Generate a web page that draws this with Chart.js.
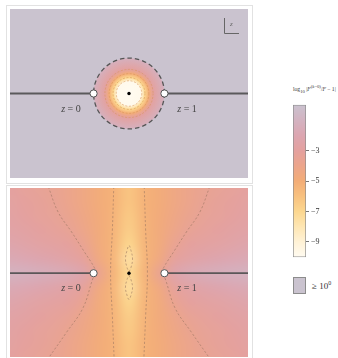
<!DOCTYPE html>
<html>
<head>
<meta charset="utf-8">
<script src="https://cdn.jsdelivr.net/npm/chart.js@4.4.1/dist/chart.umd.min.js"></script>
<style>
  html, body { margin: 0; padding: 0; background: #fff; }
  body { width: 338px; height: 358px; position: relative; overflow: hidden; font-family: 'Liberation Serif', serif; }
  canvas, .frame, .txt, .swatch { position: absolute; }
  .frame { border: 1px solid #e2e2e2; box-sizing: border-box; }
  .txt { white-space: nowrap; color: #333; }
</style>
</head>
<body>
<div class="frame" style="left:6px;top:5px;width:247px;height:179px"></div>
<div class="frame" style="left:6px;top:185px;width:247px;height:180px"></div>
<canvas id="top" width="238" height="169" style="left:10px;top:9px"></canvas>
<canvas id="bottom" width="238" height="169" style="left:10px;top:188px"></canvas>
<canvas id="bar" width="45" height="166" style="left:293px;top:98px"></canvas>
<div class="txt" style="left:293px;top:84px;font-size:5.6px">log<sub>10</sub> |<i>F</i><sup>(<i>k</i>=0)</sup>/<i>F</i> − 1|</div>
<div class="swatch" style="left:293px;top:277px;width:13px;height:17px;background:#cac3cf;border:1px solid #8c8c8c;box-sizing:border-box"></div>
<div class="txt" style="left:312px;top:280px;font-size:9px">≥ 10<sup style="font-size:6px">0</sup></div>
<script>
// plane window (Re, Im)
const reRange = [-1.18, 2.18];
const imRangeTop = [-1.19, 1.19];
const imRangeBottom = [-1.18, 1.2];

// special points on the real axis
const cutLeft = [{x: -1.18, y: 0}, {x: 0, y: 0}];
const cutRight = [{x: 1, y: 0}, {x: 2.18, y: 0}];
const endPoints = [{x: 0, y: 0}, {x: 1, y: 0}];
const centrePoint = [{x: 0.5, y: 0}];

// top panel: radial profile around z = 1/2 (radius -> log10 error)
const topRadii = [0, 0.17, 0.18, 0.225, 0.28, 0.34, 0.5];
const topLevels = [-10, -9.8, -9, -7, -5, -3, -1.2];
const topContourLevels = [-3, -5, -7, -9];
const unitCircleRadius = 0.5;

// bottom panel: sampled log10 error
const gridRe = [-1.18, -0.97, -0.76, -0.55, -0.34, -0.13, 0.08, 0.29, 0.5, 0.71, 0.92, 1.13, 1.34, 1.55, 1.76, 1.97, 2.18];
const gridIm = [1.2, 1.0, 0.8, 0.6, 0.4, 0.2, 0, -0.2, -0.4, -0.6, -0.8, -1.0, -1.2];
const gridLevels = [
  [-3.0, -3.2, -3.4, -3.65, -4.0, -4.4, -4.85, -5.3, -6.2, -5.3, -4.85, -4.4, -4.0, -3.65, -3.4, -3.2, -3.0],
  [-2.9, -3.1, -3.3, -3.55, -3.95, -4.4, -4.85, -5.3, -6.2, -5.3, -4.85, -4.4, -3.95, -3.55, -3.3, -3.1, -2.9],
  [-2.8, -3.0, -3.2, -3.4, -3.8, -4.3, -4.8, -5.35, -6.4, -5.35, -4.8, -4.3, -3.8, -3.4, -3.2, -3.0, -2.8],
  [-2.6, -2.8, -3.0, -3.2, -3.5, -4.1, -4.75, -5.4, -6.6, -5.4, -4.75, -4.1, -3.5, -3.2, -3.0, -2.8, -2.6],
  [-2.3, -2.5, -2.7, -2.9, -3.1, -3.7, -4.7, -5.45, -7.0, -5.45, -4.7, -3.7, -3.1, -2.9, -2.7, -2.5, -2.3],
  [-1.8, -1.95, -2.15, -2.4, -2.7, -3.2, -4.5, -5.5, -7.6, -5.5, -4.5, -3.2, -2.7, -2.4, -2.15, -1.95, -1.8],
  [-1.1, -1.2, -1.35, -1.55, -1.8, -2.4, -3.8, -5.4, -7.1, -5.4, -3.8, -2.4, -1.8, -1.55, -1.35, -1.2, -1.1],
  [-1.8, -1.95, -2.15, -2.4, -2.7, -3.2, -4.5, -5.5, -7.5, -5.5, -4.5, -3.2, -2.7, -2.4, -2.15, -1.95, -1.8],
  [-2.3, -2.5, -2.7, -2.9, -3.1, -3.7, -4.7, -5.45, -7.0, -5.45, -4.7, -3.7, -3.1, -2.9, -2.7, -2.5, -2.3],
  [-2.6, -2.8, -3.0, -3.2, -3.5, -4.1, -4.75, -5.4, -6.6, -5.4, -4.75, -4.1, -3.5, -3.2, -3.0, -2.8, -2.6],
  [-2.8, -3.0, -3.2, -3.4, -3.8, -4.3, -4.8, -5.35, -6.4, -5.35, -4.8, -4.3, -3.8, -3.4, -3.2, -3.0, -2.8],
  [-2.9, -3.1, -3.3, -3.55, -3.95, -4.4, -4.85, -5.3, -6.2, -5.3, -4.85, -4.4, -3.95, -3.55, -3.3, -3.1, -2.9],
  [-3.0, -3.2, -3.4, -3.65, -4.0, -4.4, -4.85, -5.3, -6.2, -5.3, -4.85, -4.4, -4.0, -3.65, -3.4, -3.2, -3.0]
];

// bottom panel contour lines
const contourOuterLeft = [{x: -0.64, y: 1.22}, {x: -0.5, y: 0.86}, {x: -0.31, y: 0.58}, {x: -0.13, y: 0.3}, {x: 0.01, y: 0.08}, {x: 0.03, y: 0}, {x: -0.01, y: -0.075}, {x: -0.15, y: -0.49}, {x: -0.38, y: -0.83}, {x: -0.64, y: -1.2}];
const contourOuterRight = [{x: 1.64, y: 1.22}, {x: 1.5, y: 0.86}, {x: 1.31, y: 0.58}, {x: 1.13, y: 0.3}, {x: 0.99, y: 0.08}, {x: 0.97, y: 0}, {x: 1.01, y: -0.075}, {x: 1.15, y: -0.49}, {x: 1.38, y: -0.83}, {x: 1.64, y: -1.2}];
const contourBandLeft = [{x: 0.285, y: 1.22}, {x: 0.265, y: 0.6}, {x: 0.24, y: 0}, {x: 0.265, y: -0.6}, {x: 0.29, y: -1.2}];
const contourBandRight = [{x: 0.715, y: 1.22}, {x: 0.735, y: 0.6}, {x: 0.76, y: 0}, {x: 0.735, y: -0.6}, {x: 0.71, y: -1.2}];
const contourLoopUpper = [{x: 0.5, y: 0.02}, {x: 0.528, y: 0.08}, {x: 0.55, y: 0.2}, {x: 0.528, y: 0.32}, {x: 0.5, y: 0.39}, {x: 0.472, y: 0.32}, {x: 0.45, y: 0.2}, {x: 0.472, y: 0.08}, {x: 0.5, y: 0.02}];
const contourLoopLower = [{x: 0.5, y: -0.03}, {x: 0.528, y: -0.09}, {x: 0.55, y: -0.2}, {x: 0.528, y: -0.31}, {x: 0.5, y: -0.37}, {x: 0.472, y: -0.31}, {x: 0.45, y: -0.2}, {x: 0.472, y: -0.09}, {x: 0.5, y: -0.03}];

// colour bar
const colorbarRange = [-10, 0];
const colorbarTicks = [-3, -5, -7, -9];

const overColor = '#cac3cf';
const cmapStops = [
  [0, '#cac2cf'], [-1, '#d3b3c1'], [-2, '#dca6b1'], [-3, '#e4a19f'], [-4, '#eca58b'],
  [-5, '#f3ad77'], [-6, '#f8c17f'], [-7, '#fcd78f'], [-8, '#fee6b3'], [-9, '#fff2d6'], [-10, '#fffbf1']
];

function hexRgb(h) {
  const n = parseInt(h.slice(1), 16);
  return [(n >> 16) & 255, (n >> 8) & 255, n & 255];
}

function cmap(v) {
  if (v >= cmapStops[0][0]) return hexRgb(cmapStops[0][1]);
  for (let i = 1; i < cmapStops.length; i++) {
    const [v1, c1] = cmapStops[i];
    const [v0, c0] = cmapStops[i - 1];
    if (v >= v1) {
      const t = (v0 - v) / (v0 - v1);
      const a = hexRgb(c0), b = hexRgb(c1);
      return a.map((c, k) => Math.round(c + (b[k] - c) * t));
    }
  }
  return hexRgb(cmapStops[cmapStops.length - 1][1]);
}

const rgbStr = c => `rgb(${c[0]},${c[1]},${c[2]})`;

const fieldPlugin = {
  id: 'field',
  beforeDatasetsDraw(chart, args, opts) {
    const {ctx, chartArea: a, scales: {x, y}} = chart;
    ctx.save();
    ctx.beginPath();
    ctx.rect(a.left, a.top, a.width, a.height);
    ctx.clip();

    if (opts.kind === 'disc') {
      ctx.fillStyle = overColor;
      ctx.fillRect(a.left, a.top, a.width, a.height);
      const cx = x.getPixelForValue(0.5), cy = y.getPixelForValue(0);
      const rMax = topRadii[topRadii.length - 1];
      const R = x.getPixelForValue(0.5 + rMax) - cx;
      const g = ctx.createRadialGradient(cx, cy, 0, cx, cy, R);
      topRadii.forEach((r, i) => g.addColorStop(r / rMax, rgbStr(cmap(topLevels[i]))));
      ctx.fillStyle = g;
      ctx.beginPath();
      ctx.arc(cx, cy, R, 0, Math.PI * 2);
      ctx.fill();

      ctx.setLineDash([2, 1.6]);
      ctx.lineWidth = 0.8;
      ctx.strokeStyle = 'rgba(214,150,90,0.75)';
      topContourLevels.forEach(lv => {
        const r = topRadii[topLevels.indexOf(lv)];
        ctx.beginPath();
        ctx.arc(cx, cy, x.getPixelForValue(0.5 + r) - cx, 0, Math.PI * 2);
        ctx.stroke();
      });

      ctx.setLineDash([4.5, 3]);
      ctx.lineWidth = 1.3;
      ctx.strokeStyle = '#555';
      ctx.beginPath();
      ctx.arc(cx, cy, x.getPixelForValue(0.5 + unitCircleRadius) - cx, 0, Math.PI * 2);
      ctx.stroke();
    } else {
      const nx = gridRe.length, ny = gridIm.length;
      const off = document.createElement('canvas');
      off.width = nx;
      off.height = ny;
      const octx = off.getContext('2d');
      const img = octx.createImageData(nx, ny);
      gridLevels.forEach((row, j) => row.forEach((v, i) => {
        const c = cmap(v), k = (j * nx + i) * 4;
        img.data[k] = c[0]; img.data[k + 1] = c[1]; img.data[k + 2] = c[2]; img.data[k + 3] = 255;
      }));
      octx.putImageData(img, 0, 0);
      const x0 = x.getPixelForValue(gridRe[0]), x1 = x.getPixelForValue(gridRe[nx - 1]);
      const y0 = y.getPixelForValue(gridIm[0]), y1 = y.getPixelForValue(gridIm[ny - 1]);
      const cw = (x1 - x0) / (nx - 1), ch = (y1 - y0) / (ny - 1);
      ctx.imageSmoothingEnabled = true;
      ctx.imageSmoothingQuality = 'high';
      ctx.drawImage(off, x0 - cw / 2, y0 - ch / 2, cw * nx, ch * ny);
    }
    ctx.restore();
  },
  afterDatasetsDraw(chart, args, opts) {
    const {ctx, chartArea: a, scales: {x, y}} = chart;
    ctx.save();
    ctx.fillStyle = '#444';
    ctx.textBaseline = 'middle';
    [[-0.32, -0.22, '0'], [1.32, -0.22, '1']].forEach(([re, im, s]) => {
      const px = x.getPixelForValue(re), py = y.getPixelForValue(im);
      ctx.font = 'italic 10px "Liberation Serif"';
      const wz = ctx.measureText('z').width;
      ctx.font = '10px "Liberation Serif"';
      const rest = ' = ' + s;
      const wr = ctx.measureText(rest).width;
      const left = px - (wz + wr) / 2;
      ctx.font = 'italic 10px "Liberation Serif"';
      ctx.fillText('z', left, py);
      ctx.font = '10px "Liberation Serif"';
      ctx.fillText(rest, left + wz, py);
    });
    if (opts.kind === 'disc') {
      ctx.strokeStyle = '#666';
      ctx.lineWidth = 1;
      ctx.beginPath();
      ctx.moveTo(a.right - 23.5, a.top + 9);
      ctx.lineTo(a.right - 23.5, a.top + 24.5);
      ctx.lineTo(a.right - 9, a.top + 24.5);
      ctx.stroke();
      ctx.font = 'italic 7px "Liberation Serif"';
      ctx.fillStyle = '#666';
      ctx.fillText('z', a.right - 18, a.top + 15);
    }
    ctx.restore();
  }
};

function markerSets(extra) {
  return [
    {data: centrePoint, pointRadius: 1.7, pointBackgroundColor: '#000', pointBorderWidth: 0, order: 0},
    {data: endPoints, pointRadius: 3.6, pointBackgroundColor: '#fff', pointBorderColor: '#555', pointBorderWidth: 1, order: 1},
    {data: cutLeft, showLine: true, borderColor: 'rgba(78,78,78,0.9)', borderWidth: 1.8, pointRadius: 0, order: 2},
    {data: cutRight, showLine: true, borderColor: 'rgba(78,78,78,0.9)', borderWidth: 1.8, pointRadius: 0, order: 2},
    ...extra
  ];
}

function contourSet(data) {
  return {data, showLine: true, borderColor: 'rgba(150,115,95,0.7)', borderWidth: 0.8, borderDash: [2.2, 2],
    pointRadius: 0, tension: 0.4, order: 3};
}

function planeChart(id, kind, imRange, extra) {
  return new Chart(document.getElementById(id), {
    type: 'scatter',
    data: {datasets: markerSets(extra)},
    options: {
      responsive: false,
      animation: false,
      layout: {padding: 0, autoPadding: false},
      plugins: {legend: {display: false}, tooltip: {enabled: false}, field: {kind}},
      scales: {
        x: {type: 'linear', display: false, min: reRange[0], max: reRange[1]},
        y: {type: 'linear', display: false, min: imRange[0], max: imRange[1]}
      }
    },
    plugins: [fieldPlugin]
  });
}

planeChart('top', 'disc', imRangeTop, []);
planeChart('bottom', 'grid', imRangeBottom, [
  contourSet(contourOuterLeft), contourSet(contourOuterRight),
  contourSet(contourBandLeft), contourSet(contourBandRight),
  contourSet(contourLoopUpper), contourSet(contourLoopLower)
]);

new Chart(document.getElementById('bar'), {
  type: 'bar',
  data: {
    labels: [''],
    datasets: [{
      data: [colorbarRange],
      backgroundColor: (c) => {
        const {chart} = c;
        const {chartArea, scales} = chart;
        if (!chartArea) return overColor;
        const yTop = scales.y.getPixelForValue(colorbarRange[1]);
        const yBot = scales.y.getPixelForValue(colorbarRange[0]);
        const g = chart.ctx.createLinearGradient(0, yTop, 0, yBot);
        cmapStops.forEach(([v, col]) => g.addColorStop((colorbarRange[1] - v) / (colorbarRange[1] - colorbarRange[0]), col));
        return g;
      },
      borderColor: '#8c8c8c',
      borderWidth: 1,
      borderSkipped: false,
      barPercentage: 1,
      categoryPercentage: 1
    }]
  },
  options: {
    responsive: false,
    animation: false,
    layout: {padding: {top: 5, bottom: 5, left: 0, right: 0}},
    plugins: {legend: {display: false}, tooltip: {enabled: false}},
    scales: {
      x: {display: false},
      y: {
        position: 'right',
        min: colorbarRange[0],
        max: colorbarRange[1],
        afterBuildTicks: s => { s.ticks = colorbarTicks.map(v => ({value: v})); },
        afterFit: s => { s.width = 32; },
        border: {display: false},
        grid: {drawOnChartArea: false, tickLength: 3, color: '#777'},
        ticks: {
          callback: v => '−' + Math.abs(v),
          font: {family: 'Liberation Serif', size: 8},
          color: '#333',
          padding: 2
        }
      }
    }
  }
});
</script>
</body>
</html>
